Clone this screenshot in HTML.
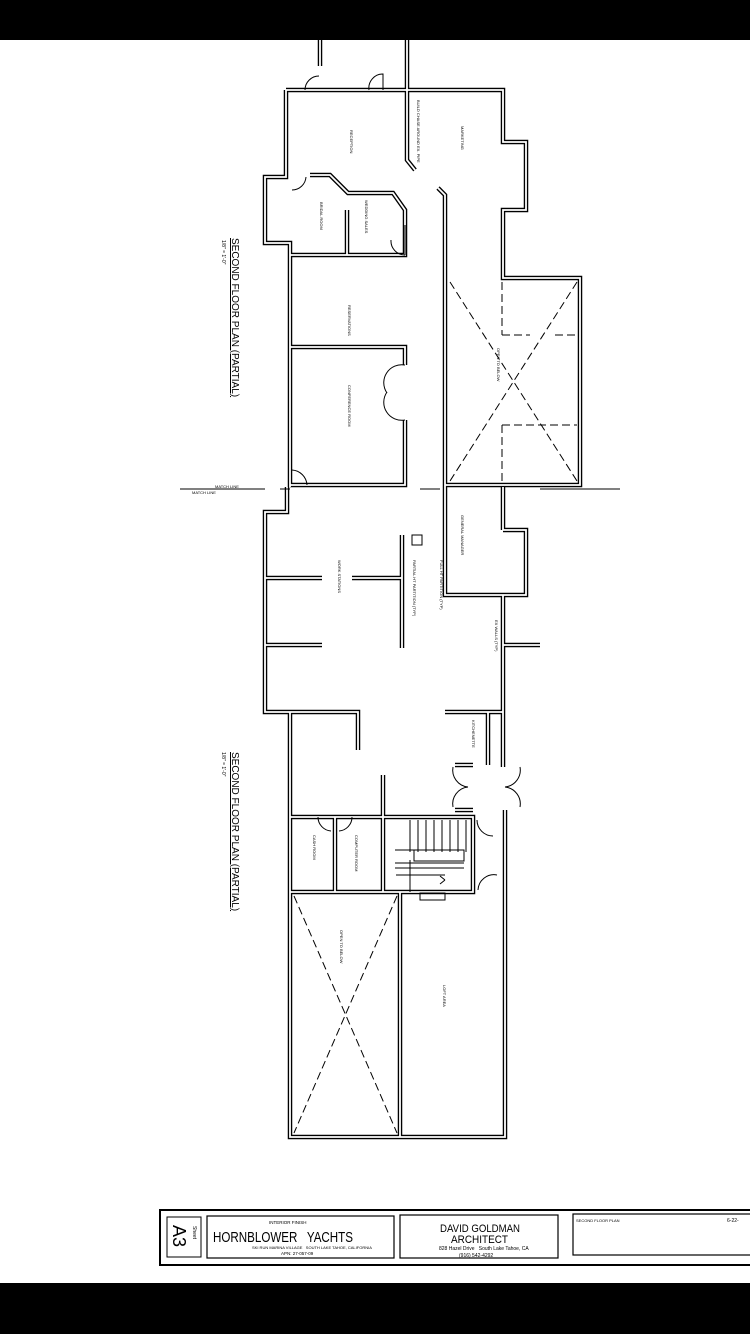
<!DOCTYPE html>
<html><head><meta charset="utf-8"><style>
html,body{margin:0;padding:0;background:#fff}
body{width:750px;height:1334px;overflow:hidden;position:relative;font-family:"Liberation Sans",sans-serif}
</style></head><body>
<svg width="750" height="1334" viewBox="0 0 750 1334" xmlns="http://www.w3.org/2000/svg">
<rect x="0" y="0" width="750" height="40" fill="#000"/>
<rect x="0" y="1283" width="750" height="51" fill="#000"/>
<defs>
<g id="walls" fill="none">
<path d="M320 40 V66 M407 40 V90"/>
<path d="M286 90 H503 V142 H526 V210 H503 V278 H580 V485 H445"/>
<path d="M286 90 V177 H265 V243 H290 V487"/>
<path d="M290 712 V1137 H505 V810"/>
<path d="M503 767 V595 M503 487 V530 M445 487 V278"/>
<path d="M407 90 V160 L415 170"/>
<path d="M438 188 L445 195 V278"/>
<path d="M290 255 H405 V210 L393 193 H348 L330 175 H310"/>
<path d="M347 210 V255"/>
<path d="M290 347 H405 V365 M405 420 V485 H290"/>
<path d="M445 487 V595 H503 M503 530 H526 V595 H503"/>
<path d="M503 645 H540"/>
<path d="M287 487 V512 H265 V712 H290"/>
<path d="M265 578 H322 M265 645 H322"/>
<path d="M352 578 H402 M402 535 V648"/>
<path d="M290 712 H358 V750"/>
<path d="M445 712 H503 M488 712 V765"/>
<path d="M455 765 H473 M473 810 H455"/>
<path d="M383 775 V817"/>
<path d="M290 817 H383 M335 817 V892 M290 892 H473 V817 H383 V892"/>
<path d="M400 892 V1137"/>
</g>
</defs>
<use href="#walls" stroke="#000" stroke-width="4.5"/>
<use href="#walls" stroke="#fff" stroke-width="1.8"/>
<g stroke="#000" stroke-width="1" fill="none">
<path d="M410 820 V852 M418 820 V852 M426 820 V852 M434 820 V852 M442 820 V852 M450 820 V852 M458 820 V852 M466 820 V852"/>
<rect x="414" y="850" width="50" height="11"/>
<path d="M395 850 H464 M395 863 H464 M395 868 H464 M410 860 V892 M445 880 L440 876 M445 880 L440 884"/>
<path d="M396 875 H445"/>
<rect x="420" y="893" width="25" height="7"/>
<rect x="412" y="535" width="10" height="10"/>
</g>
<g stroke="#000" stroke-width="1" stroke-dasharray="8,4" fill="none">
<path d="M450 282 L577 481 M577 282 L450 481"/>
<path d="M294 896 L397 1133 M397 896 L294 1133"/>
<path d="M502 282 V335 M502 425 V481 M502 335 H530 M555 335 H577 M502 425 H577"/>
</g>
<g stroke="#000" stroke-width="1" fill="none">
<path d="M305 90 A14 14 0 0 1 319 76 M369 90 A14 14 0 0 1 383 74 V90"/>
<path d="M292 190 A14 14 0 0 0 306 177"/>
<path d="M405 255 A14 14 0 0 1 391 240 M405 255 V225"/>
<path d="M405 365 A18 18 0 0 0 387 393 M405 420 A18 18 0 0 1 387 392"/>
<path d="M292 470 A16 16 0 0 1 307 485"/>
<path d="M453 767 A17 17 0 0 0 468 787 M453 807 A17 17 0 0 1 468 787"/>
<path d="M520 767 A17 17 0 0 1 505 787 M520 807 A17 17 0 0 0 505 787"/>
<path d="M318 817 A14 14 0 0 0 331 831 M352 817 A14 14 0 0 1 339 831"/>
<path d="M477 820 A16 16 0 0 0 493 836"/>
<path d="M478 890 A16 16 0 0 1 497 875"/>
<path d="M180 489 H265 M280 489 H290 M420 489 H440 M540 489 H620"/>
</g>
<g font-size="4" fill="#000">
<text transform="translate(350,130) rotate(90)">RECEPTION</text>
<text transform="translate(461,126) rotate(90)">MARKETING</text>
<text transform="translate(417,100) rotate(90)">BUILD CHASE AROUND EX. PIPE</text>
<text transform="translate(320,202) rotate(90)">BRIDAL ROOM</text>
<text transform="translate(365,200) rotate(90)">WEDDING SALES</text>
<text transform="translate(348,305) rotate(90)">RESERVATIONS</text>
<text transform="translate(348,385) rotate(90)">CONFERENCE ROOM</text>
<text transform="translate(497,348) rotate(90)">OPEN TO BELOW</text>
<text transform="translate(461,515) rotate(90)">GENERAL MANAGER</text>
<text transform="translate(338,560) rotate(90)">WORK STATIONS</text>
<text transform="translate(413,560) rotate(90)">PARTIAL HT PARTITION (TYP)</text>
<text transform="translate(440,560) rotate(90)">FULL HT PARTITION (TYP)</text>
<text transform="translate(495,620) rotate(90)">EX WALLS (TYP)</text>
<text transform="translate(472,720) rotate(90)">KITCHENETTE</text>
<text transform="translate(313,835) rotate(90)">CASH ROOM</text>
<text transform="translate(355,835) rotate(90)">COMPUTER ROOM</text>
<text transform="translate(340,930) rotate(90)">OPEN TO BELOW</text>
<text transform="translate(443,985) rotate(90)">LOFT AREA</text>
<text x="215" y="488">MATCH LINE</text>
<text x="192" y="494">MATCH LINE</text>
</g>
<g font-size="10" fill="#000" style="text-decoration:underline">
<text transform="translate(232,238) rotate(90)">SECOND FLOOR PLAN (PARTIAL)</text>
<text transform="translate(232,752) rotate(90)">SECOND FLOOR PLAN (PARTIAL)</text>
</g>
<g font-size="5" fill="#000">
<text transform="translate(222,240) rotate(90)">1/8" = 1'-0"</text>
<text transform="translate(222,752) rotate(90)">1/8" = 1'-0"</text>
</g>
<g stroke="#000" fill="none">
<rect x="160" y="1210" width="595" height="55" stroke-width="2"/>
<rect x="167" y="1217" width="34" height="40" stroke-width="1"/>
<rect x="207" y="1216" width="187" height="42" stroke-width="1.2"/>
<rect x="400" y="1215" width="158" height="43" stroke-width="1.2"/>
<rect x="573" y="1214" width="180" height="41" stroke-width="1.2"/>
</g>
<g fill="#000">
<text transform="translate(173,1225) rotate(90)" font-size="18">A3</text>
<text transform="translate(193,1226) rotate(90)" font-size="5">Sheet</text>
<text x="269" y="1224" font-size="4.5">INTERIOR FINISH</text>
<text x="213" y="1242" font-size="15" textLength="140" lengthAdjust="spacingAndGlyphs">HORNBLOWER&#160;&#160; YACHTS</text>
<text x="252" y="1249" font-size="4">SKI RUN MARINA VILLAGE &#160; SOUTH LAKE TAHOE, CALIFORNIA</text>
<text x="281" y="1255" font-size="4.5">APN: 27-057-09</text>
<text x="440" y="1232" font-size="11" textLength="80" lengthAdjust="spacingAndGlyphs">DAVID GOLDMAN</text>
<text x="451" y="1243" font-size="11" textLength="57" lengthAdjust="spacingAndGlyphs">ARCHITECT</text>
<text x="439" y="1250" font-size="5">828 Hazel Drive &#160; South Lake Tahoe, CA</text>
<text x="459" y="1257" font-size="5">(916) 542-4292</text>
<text x="576" y="1222" font-size="4">SECOND FLOOR PLAN</text>
<text x="727" y="1222" font-size="5">6-22-</text>
</g>
</svg>
</body></html>
